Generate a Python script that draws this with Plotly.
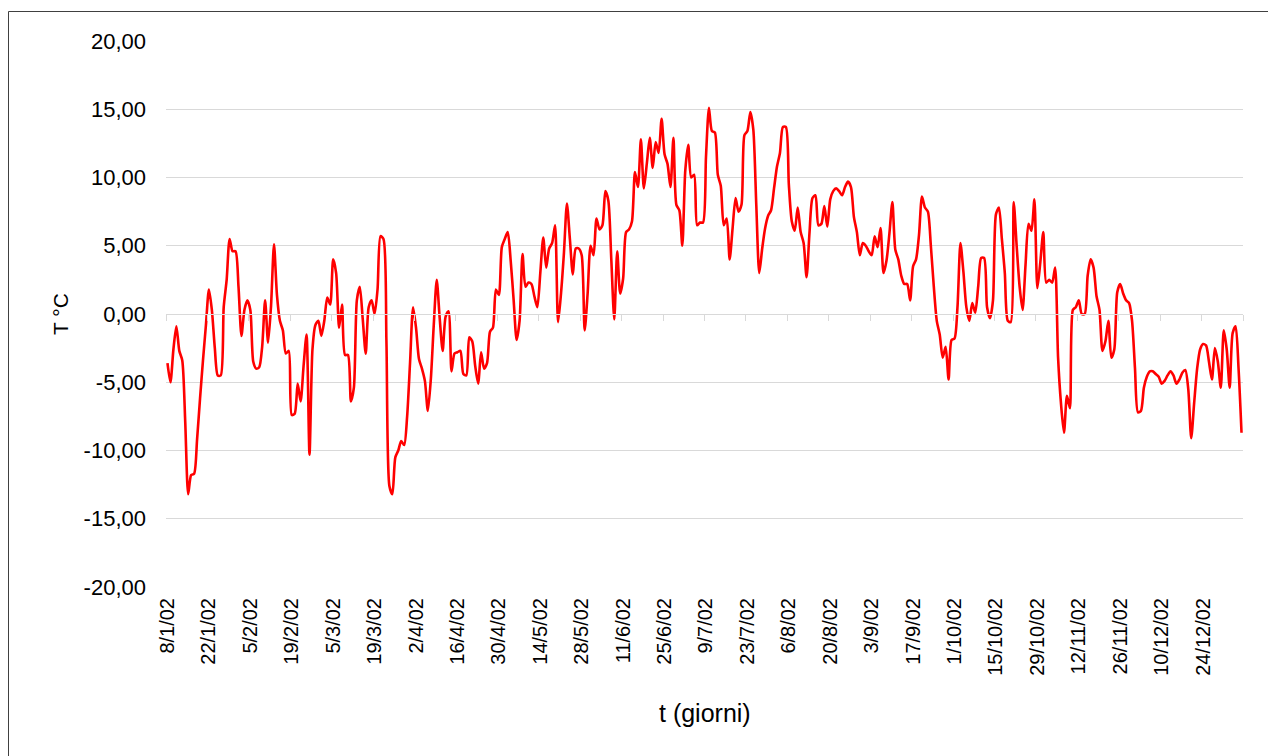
import plotly.graph_objects as go
import pandas as pd

# Daily temperatures (°C) from 8/1/02, one value per day
temps = (
    # 8/1 - 8/2
    [-3.6, -5.0, -2.6, -0.9, -2.7, -3.4, -7.9, -13.2, -11.8, -11.7,
     -9.2, -6.2, -3.4, -0.8, 1.8, 0.3, -2.5, -4.5, -4.5, 0.5,
     2.5, 5.5, 4.6, 4.6, 2.0, -1.6, 0.3, 1.0, 0.3, -3.5,
     -4.0, -3.9]
    # 9/2 - 13/3
    + [-2.4, 1.0, -2.1, 0.6, 5.1, 1.4, -0.5, -1.2, -2.9, -2.7,
       -7.4, -7.3, -5.1, -6.4, -3.8, -1.5, -10.3, -2.6, -0.8, -0.5,
       -1.6, -0.5, 1.2, 0.7, 4.0, 3.0, -1.0, 0.7, -3.0, -3.0,
       -6.4, -5.4, 1.0, 2.0]
    # 16/3 - 16/4
    + [-0.4, -2.9, 0.5, 1.0, 0.0, 1.8, 5.7, 5.5, -2.0, -12.6,
       -13.2, -10.5, -10.0, -9.3, -9.6, -7.5, -3.5, 0.5, -1.0, -3.3,
       -4.0, -4.9, -7.1, -4.8, -0.8, 2.5, -0.3, -2.7, -0.2, 0.2,
       -4.2, -2.9, -2.8]
    # 17/4 - 20/5
    + [-2.7, -4.4, -4.5, -1.7, -2.0, -3.8, -5.1, -2.8, -4.0, -3.6,
       -1.3, -1.0, 1.8, 1.4, 4.9, 5.5, 6.0, 3.9, 1.0, -1.9,
       -0.5, 4.4, 2.0, 2.3, 2.2, 1.3, 0.5, 3.0, 5.6, 3.4,
       4.8, 5.2, 6.5, -0.6]
    # 21/5 - 23/6
    + [1.5, 4.5, 8.1, 5.5, 2.9, 4.8, 4.8, 4.3, -1.2, 1.5,
       5.0, 4.3, 7.0, 6.2, 6.5, 9.0, 8.3, 4.0, -0.4, 4.6,
       1.5, 2.6, 6.0, 6.2, 6.8, 10.4, 9.3, 12.8, 9.2, 11.0,
       12.9, 10.7, 12.6, 11.8]
    # 24/6 - 26/7
    + [14.3, 11.7, 11.0, 9.3, 12.9, 8.0, 7.6, 5.0, 10.5, 12.4,
       10.0, 10.2, 6.5, 6.7, 6.7, 11.5, 15.1, 13.4, 13.3, 10.2,
       9.4, 6.5, 7.0, 4.0, 6.3, 8.5, 7.5, 8.0, 13.1, 13.4,
       14.8, 13.5, 8.0]
    # 27/7 - 29/8
    + [3.0, 4.8, 6.3, 7.2, 7.6, 9.2, 10.8, 11.8, 13.7, 13.7,
       9.5, 6.8, 6.1, 7.8, 6.0, 5.2, 2.7, 6.0, 8.5, 8.7,
       6.5, 6.6, 7.9, 6.4, 8.4, 9.0, 9.2, 9.0, 8.7, 9.3,
       9.7, 9.3, 7.1, 6.0]
    # 30/8 - 2/10
    + [4.3, 5.2, 5.0, 4.6, 4.3, 5.7, 4.9, 6.3, 3.0, 3.9,
       5.9, 8.2, 4.7, 4.0, 2.8, 2.2, 2.2, 1.0, 3.5, 4.0,
       5.8, 8.6, 7.8, 7.5, 5.0, 2.0, -0.5, -1.5, -3.2, -2.4,
       -4.8, -1.9, -1.8, 0.5]
    # 3/10 - 5/11
    + [5.2, 3.1, 0.5, -0.5, 0.8, 0.1, 2.0, 4.1, 4.1, 0.5,
       -0.3, 1.0, 7.3, 7.8, 5.5, 3.0, -0.5, -0.6, 8.2, 5.0,
       2.0, 0.3, 3.6, 6.6, 6.1, 8.4, 1.9, 3.8, 6.0, 2.3,
       2.5, 2.3, 3.4, -3.2]
    # 6/11 - 9/12
    + [-6.6, -8.7, -6.0, -6.9, 0.3, 0.5, 1.0, 0.0, 0.0, 2.8,
       4.0, 3.4, 1.3, 0.3, -2.7, -2.0, -0.5, -3.2, -2.6, 1.6,
       2.2, 1.5, 1.0, 0.8, -0.5, -4.0, -7.2, -7.1, -5.4, -4.6,
       -4.2, -4.2, -4.4, -4.6]
    # 10/12 - 6/1/03
    + [-5.1, -4.9, -4.5, -4.2, -4.5, -5.1, -4.8, -4.3, -4.1, -5.5,
       -9.1, -6.5, -4.0, -2.6, -2.2, -2.3, -3.5, -4.8, -2.5, -3.5,
       -5.4, -1.2, -2.6, -5.4, -1.4, -0.9, -4.0, -8.7]
)

start_date = "2002-01-08"
dates = pd.date_range(start_date, periods=len(temps), freq="D")

y_tickvals = [-20, -15, -10, -5, 0, 5, 10, 15, 20]
y_ticktext = ["-20,00", "-15,00", "-10,00", "-5,00", "0,00", "5,00", "10,00", "15,00", "20,00"]

x_title = "t (giorni)"
y_title = "T °C"

FONT = "Liberation Sans, Arial, sans-serif"
DAY = 86400000
half = pd.Timedelta(hours=12)
x_range = [dates[0] - half, dates[-1] + half]

# page places the figure at an 8px body offset
W, H = 1268, 748
L, R, T, B = 158, 33, 33, 169
PW, PH = W - L - R, H - T - B


def px(xp):  # page x -> paper
    return (xp - 8 - L) / PW


def py(yp):  # page y -> paper
    return (H - B + 8 - yp) / PH


fig = go.Figure()
fig.add_trace(go.Scatter(
    x=dates, y=temps, mode="lines",
    line=dict(color="#FF0000", width=2.6, shape="spline", smoothing=0.7),
    showlegend=False, hoverinfo="skip",
))
# helper trace for the axis drawn at T = 0
fig.add_trace(go.Scatter(x=[dates[0]], y=[None], xaxis="x2", yaxis="y",
                         mode="lines", showlegend=False, hoverinfo="skip"))

fig.update_layout(
    width=W, height=H,
    margin=dict(l=L, r=R, t=T, b=B),
    paper_bgcolor="white", plot_bgcolor="white",
    font=dict(family=FONT, color="#000000"),
    xaxis=dict(
        type="date", range=x_range,
        tick0=start_date, dtick=14 * DAY, tickformat="%-d/%-m/%y",
        tickangle=-90, tickfont=dict(size=20),
        showgrid=False, showline=False, ticks="", zeroline=False,
        ticklabelstandoff=6,
    ),
    xaxis2=dict(
        type="date", range=x_range, overlaying="x", anchor="free", position=0.5,
        tick0=dates[0] - half, dtick=14 * DAY, showticklabels=False,
        showgrid=False, showline=True, linecolor="#d9d9d9", linewidth=1,
        ticks="outside", ticklen=6, tickcolor="#d9d9d9", tickwidth=1,
        zeroline=False,
    ),
    yaxis=dict(
        range=[-20, 20], tickvals=y_tickvals, ticktext=y_ticktext,
        tickfont=dict(size=22), showgrid=True, gridcolor="#d9d9d9", gridwidth=1,
        zeroline=False, showline=False, ticks="", ticklabelstandoff=19,
    ),
    annotations=[
        dict(text=y_title, xref="paper", yref="paper", x=px(60), y=0.5,
             textangle=-90, showarrow=False, font=dict(size=21),
             xanchor="center", yanchor="middle"),
        dict(text=x_title, xref="paper", yref="paper", x=0.5, y=py(713),
             showarrow=False, font=dict(size=25), xanchor="center", yanchor="middle"),
    ],
    shapes=[
        # chart frame: left and top edges visible, the rest falls outside the picture
        dict(type="rect", xref="paper", yref="paper",
             x0=px(8.5), x1=px(1300), y0=py(790), y1=py(11.5),
             line=dict(color="#404040", width=1), fillcolor="rgba(0,0,0,0)",
             layer="below"),
    ],
)

fig.write_html("out.html")
